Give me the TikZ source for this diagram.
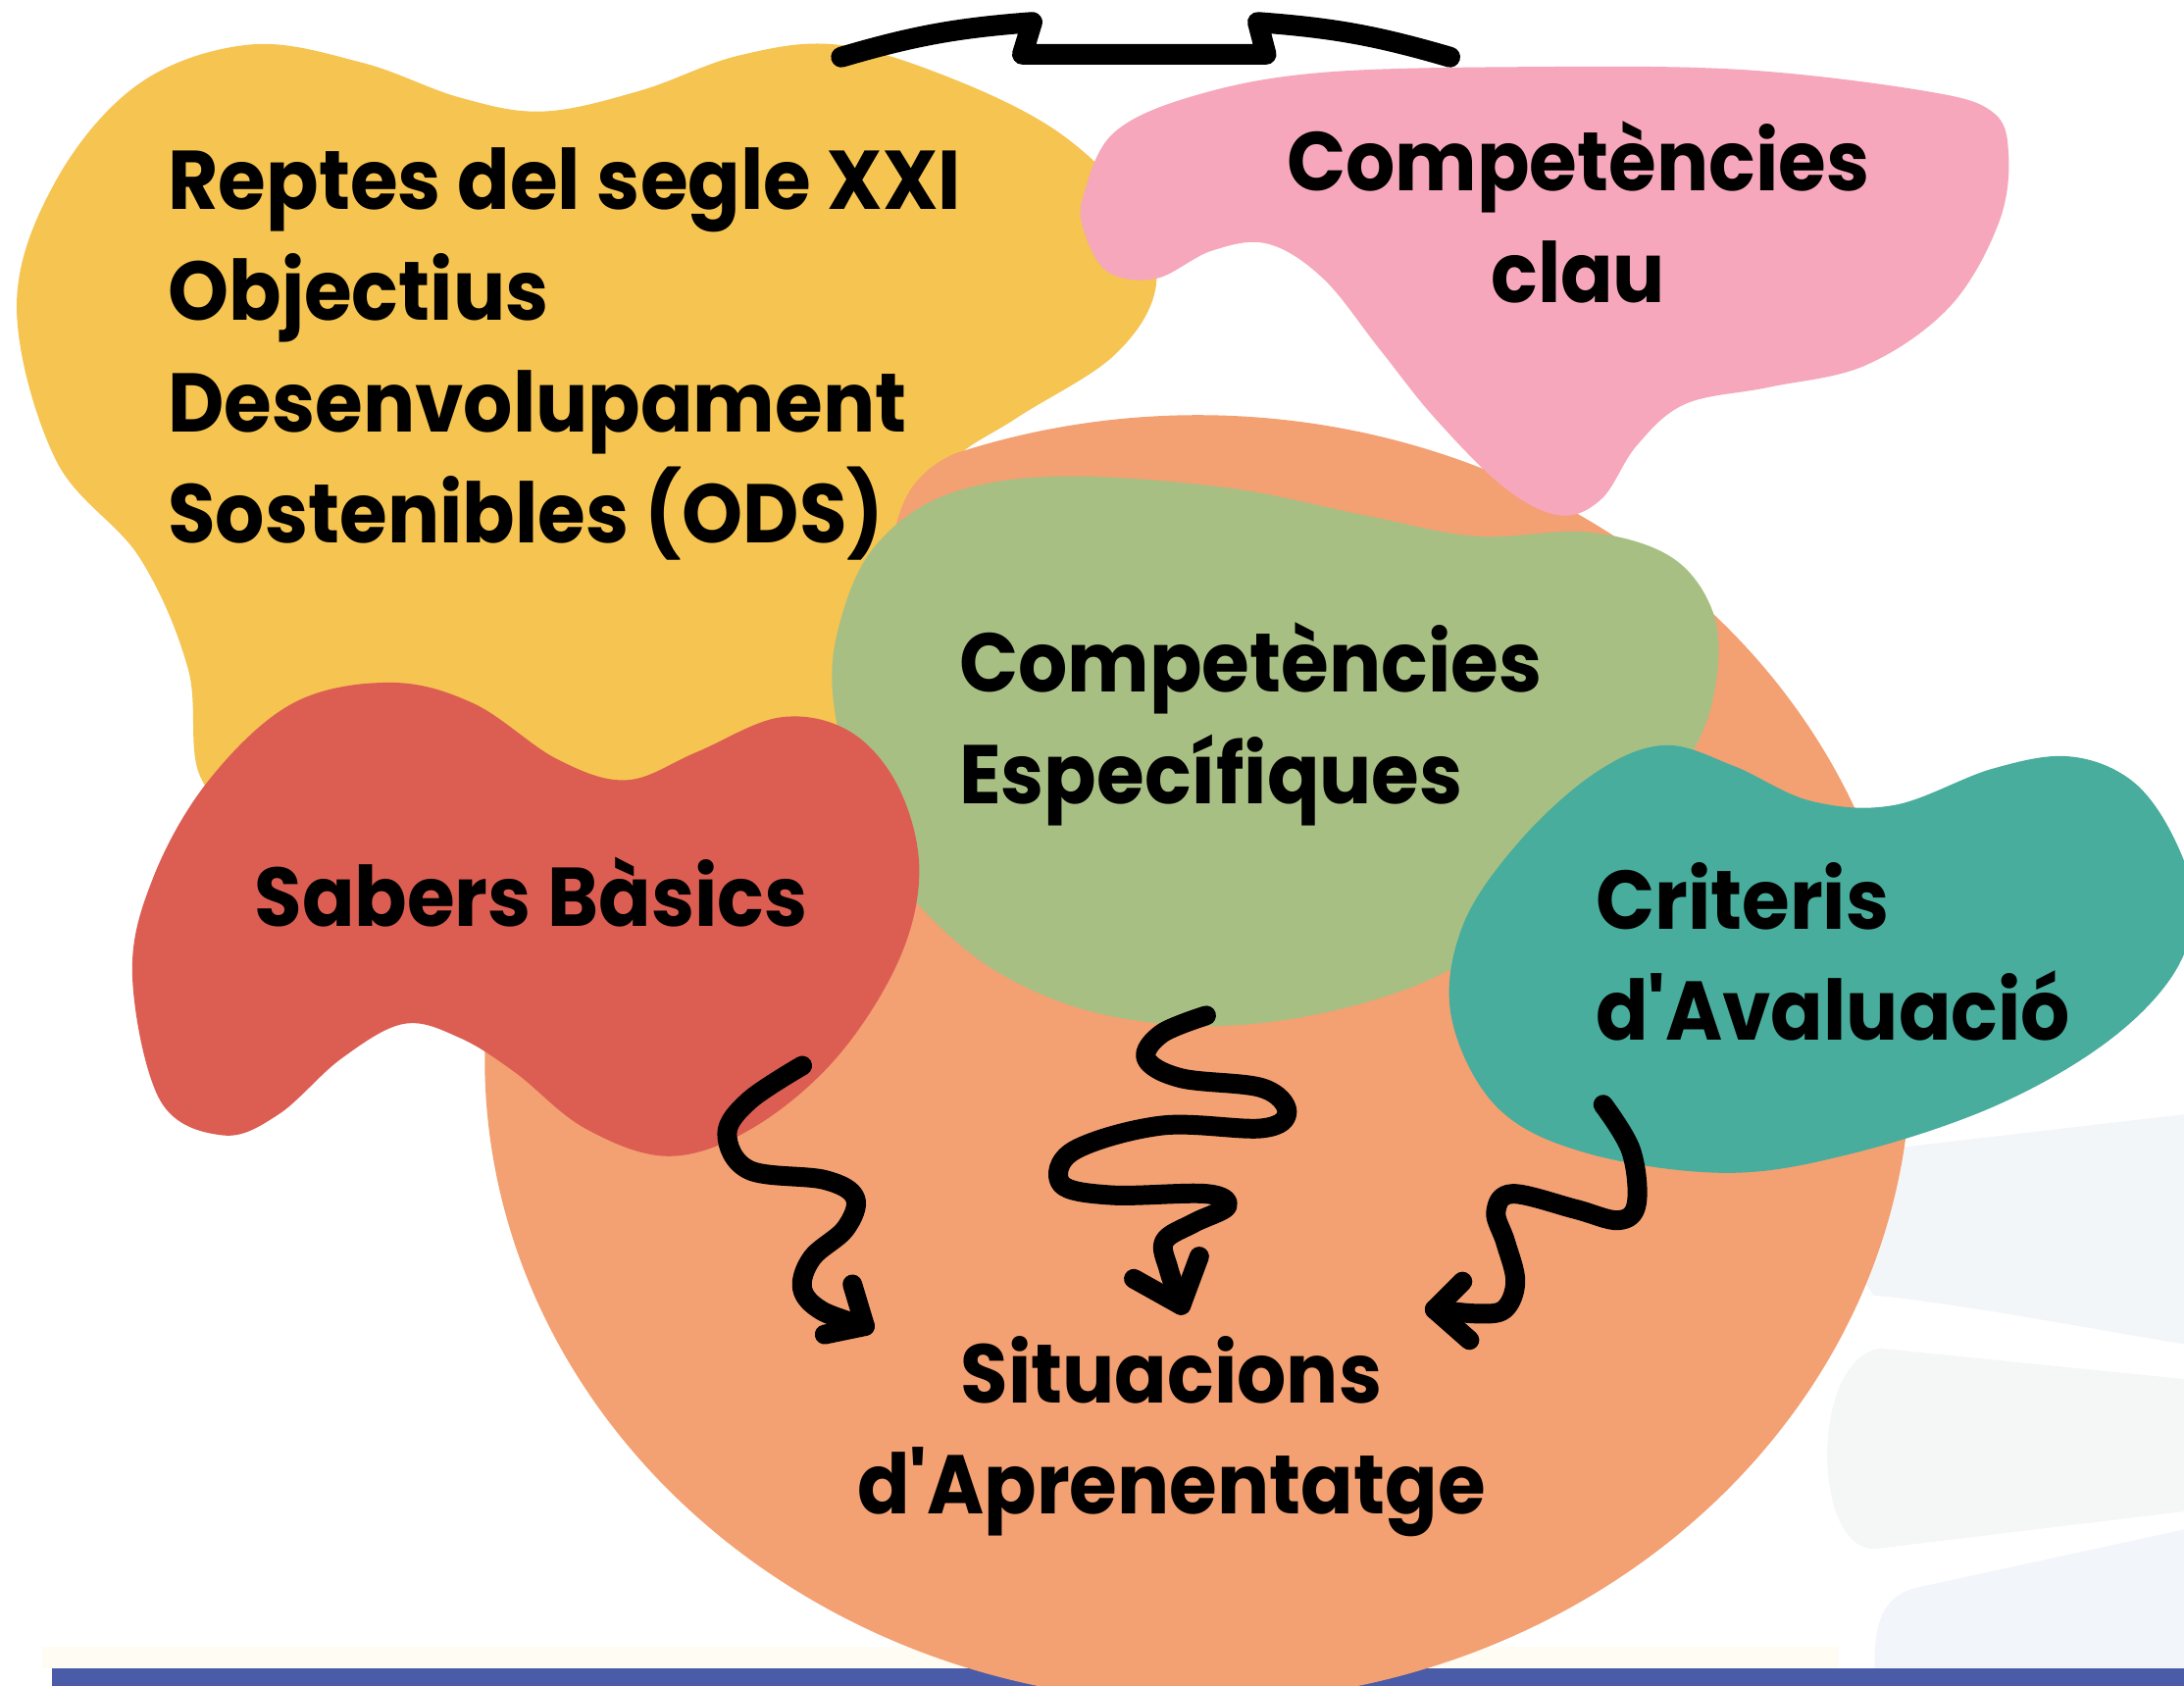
\documentclass[tikz,border=0pt]{standalone}
\usepackage{fontspec}
\setmainfont{Poppins}[Ligatures=TeXOff, FakeStretch=0.93]
\definecolor{cyellow}{HTML}{F5C451}
\definecolor{cpink}{HTML}{F6A7BB}
\definecolor{corange}{HTML}{F3A072}
\definecolor{cgreen}{HTML}{A8BF84}
\definecolor{cred}{HTML}{DC5E53}
\definecolor{cteal}{HTML}{48AD9C}
\definecolor{cbar}{HTML}{4A5BA7}
\definecolor{cpaleb}{HTML}{F3F6F9}
\definecolor{cpaleg}{HTML}{F4F7F5}
\definecolor{cpalec}{HTML}{F2F5FA}
\definecolor{cpaley}{HTML}{FFFDF3}
\tikzset{
  lbl/.style={font=\fontsize{17}{20}\selectfont\bfseries, inner sep=0pt, text=black},
  squig/.style={line width=4pt, draw=black, line cap=round, line join=round}
}
\begin{document}
\begin{tikzpicture}[x=0.01cm,y=-0.01cm]
\useasboundingbox (0,0) rectangle (1568,1210);
\fill[white] (0,0) rectangle (1568,1210);
% faint background on the right
\fill[cpaleb] (1310,830) -- (1568,800) -- (1568,965) .. controls (1480,950) and (1400,935) .. (1345,930) .. controls (1325,900) and (1315,860) .. (1310,830) -- cycle;
\fill[cpaleg] (1350,968) -- (1568,990) -- (1568,1085) -- (1345,1112) .. controls (1300,1110) and (1300,975) .. (1350,968) -- cycle;
\fill[cpalec] (1375,1140) -- (1568,1098) -- (1568,1198) -- (1346,1198) .. controls (1345,1165) and (1352,1146) .. (1375,1140) -- cycle;
\fill[cpaley] (30,1182) rectangle (1320,1198);
% bottom bar
\fill[cbar] (37,1198) rectangle (1568,1210);
% yellow
\fill[cyellow] plot[smooth cycle, tension=0.6] coordinates {
 (12,220) (40,130) (100,60) (180,32) (260,45) (330,70) (390,80) (460,65)
 (530,40) (600,32) (680,55) (760,95) (815,150) (830,205) (800,255)
 (730,300) (680,335) (645,400) (630,480) (600,560) (400,580) (200,600) (145,560)
 (135,480) (100,400) (40,330)};
% orange
\fill[corange] (348,760) arc[start angle=180, end angle=-110, x radius=512, y radius=462]
  .. controls (655,340) and (645,360) .. (640,395) -- (630,470) -- (615,535) -- (470,585)
  .. controls (385,640) and (348,700) .. (348,760) -- cycle;
% pink
\fill[cpink] plot[smooth cycle, tension=0.6] coordinates {
 (778,140) (800,95) (860,68) (950,52) (1100,48) (1250,50) (1380,65)
 (1430,80) (1442,110) (1435,160) (1400,220) (1340,262) (1270,278)
 (1210,290) (1175,320) (1150,358) (1120,370) (1080,350) (1030,300)
 (990,250) (950,200) (910,175) (870,180) (830,200) (795,195) (778,165)};
% green
\fill[cgreen] plot[smooth cycle, tension=0.6] coordinates {
 (598,500) (605,440) (630,390) (680,355) (760,342) (880,350) (980,370)
 (1060,385) (1140,382) (1200,400) (1230,440) (1232,490) (1215,540)
 (1170,600) (1100,660) (1010,710) (900,735) (800,730) (720,700)
 (660,650) (620,590)};
% red
\fill[cred] plot[smooth cycle, tension=0.6] coordinates {
 (95,700) (110,630) (150,560) (210,505) (280,490) (340,505) (400,545)
 (450,560) (500,540) (560,515) (610,525) (645,565) (660,625) (645,690)
 (600,760) (540,810) (480,830) (420,810) (370,770) (330,745) (290,735)
 (245,760) (200,800) (160,815) (115,790)};
% teal
\fill[cteal] plot[smooth cycle, tension=0.6] coordinates {
 (1042,730) (1050,665) (1090,605) (1145,555) (1195,535) (1245,550)
 (1300,575) (1360,578) (1430,552) (1485,543) (1530,560) (1560,600)
 (1575,650) (1560,700) (1510,750) (1430,795) (1330,828) (1240,842)
 (1140,828) (1075,795)};
% labels
\node[lbl, anchor=base west] (r1) at (120,150) {Reptes del segle XXI};
\node[lbl, anchor=base west] (r2) at (120,230) {Objectius};
\node[lbl, anchor=base west] (r3) at (120,310) {Desenvolupament};
\node[lbl, anchor=base west] (r4) at (120,390) {Sostenibles (ODS)};
\node[lbl, anchor=base] (k1) at (1133,137) {Competències};
\node[lbl, anchor=base] (k2) at (1133,217) {clau};
\node[lbl, anchor=base west] (e1) at (688,497) {Competències};
\node[lbl, anchor=base west] (e2) at (688,577) {Específiques};
\node[lbl, anchor=base west] (sb) at (182,665) {Sabers Bàsics};
\node[lbl, anchor=base west] (c1) at (1145,667) {Criteris};
\node[lbl, anchor=base west] (c2) at (1145,747) {d'Avaluació};
\node[lbl, anchor=base] (s1) at (841,1007) {Situacions};
\node[lbl, anchor=base] (s2) at (841,1087) {d'Aprenentatge};
% top squiggle
\coordinate (tL) at (604,41);
\coordinate (tR) at (1041,41);
\draw[squig, line width=4.2pt] (tL) to[bend left=6] (741,16) -- (734,39) -- (909,39) -- (903,16) to[bend left=6] (tR);
% left arrow
\coordinate (a1s) at (576,765);
\coordinate (a1t) at (621,952);
\draw[squig] plot[smooth, tension=0.6] coordinates {
 (a1s) (538,790) (522,814) (538,840) (592,847) (614,860) (607,882)
 (583,903) (576,925) (590,941) (a1t)};
\draw[squig] (612,922) -- (a1t) -- (592,958);
% centre arrow
\coordinate (a2s) at (866,729);
\coordinate (a2t) at (848,937);
\draw[squig] plot[smooth, tension=0.6] coordinates {
 (a2s) (834,742) (823,760) (848,774) (906,781) (924,798) (906,810)
 (834,808) (771,826) (762,850) (798,858) (866,857) (881,866) (857,878)
 (836,891) (839,911) (a2t)};
\draw[squig] (814,918) -- (a2t) -- (861,902);
% right arrow
\coordinate (a3s) at (1151,793);
\coordinate (a3t) at (1030,940);
\draw[squig] plot[smooth, tension=0.6] coordinates {
 (a3s) (1171,826) (1175,864) (1162,876) (1131,868) (1086,857) (1074,870)
 (1081,892) (1088,920) (1080,940) (1060,943) (a3t)};
\draw[squig] (1050,920) -- (a3t) -- (1055,962);
\end{tikzpicture}
\end{document}
